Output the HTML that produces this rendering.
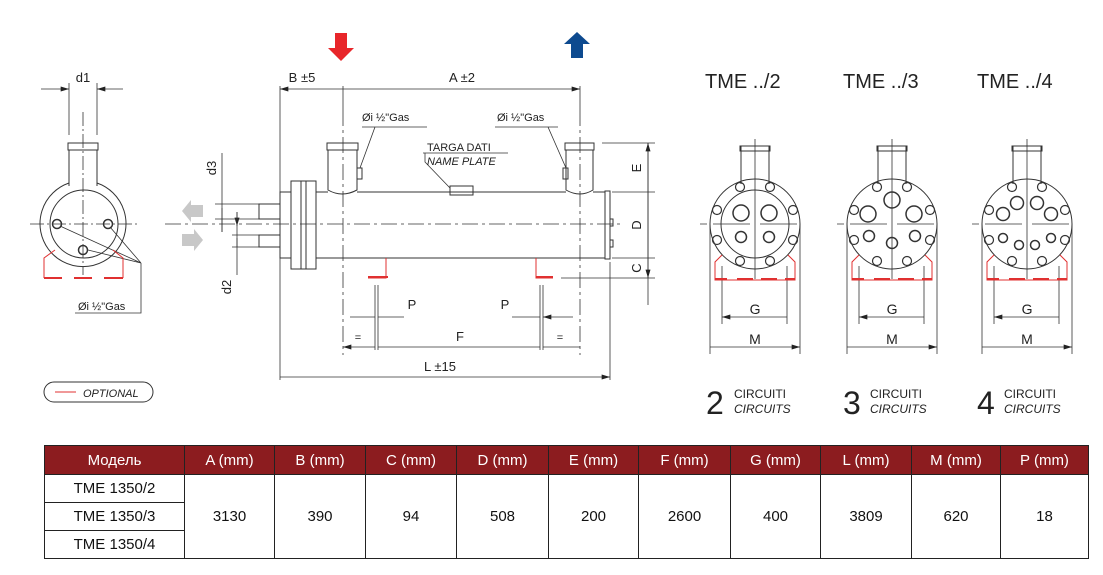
<!DOCTYPE html>
<html><head><meta charset="utf-8"><style>
body{margin:0;background:#fff;width:1103px;height:575px;overflow:hidden;font-family:"Liberation Sans",sans-serif}
svg{position:absolute;left:0;top:0}
table{position:absolute;left:44px;top:445px;border-collapse:collapse;font-family:"Liberation Sans",sans-serif;font-size:15px;color:#111}
td,th{border:1.5px solid #222;text-align:center;padding:0;height:27px}
th{background:#8c1c1f;color:#fff;font-weight:normal;height:28px}
</style></head><body>
<svg width="1103" height="440" viewBox="0 0 1103 440" font-family="Liberation Sans, sans-serif">
<defs>
<marker id="a" viewBox="0 0 10 6" refX="10" refY="3" markerWidth="9" markerHeight="5" orient="auto-start-reverse" markerUnits="userSpaceOnUse"><path d="M0,0L10,3L0,6z" fill="#222"/></marker>
<g id="rv" fill="none" stroke="#333" stroke-width="1">
 <path d="M-14,-40V-78M14,-40V-78M-15,-78h30v5h-30z"/>
 <circle r="45"/>
 <g stroke-width="1.2">
 <circle cx="-15" cy="-37" r="4.5"/><circle cx="15" cy="-37" r="4.5"/><circle cx="-38" cy="-14" r="4.5"/><circle cx="38" cy="-14" r="4.5"/>
 <circle cx="-38" cy="16" r="4.5"/><circle cx="38" cy="16" r="4.5"/><circle cx="-15" cy="37" r="4.5"/><circle cx="15" cy="37" r="4.5"/></g>
 <path d="M0,-85V55M-55,0H-48M-42,0H-5M5,0H42" stroke-width="0.8"/>
 <path d="M-33,42V100M32,42V100M-45,0V130M45,0V130" stroke-width="0.8"/>
 <path d="M-33,93H32M-45,123H45" stroke-width="0.8" marker-start="url(#a)" marker-end="url(#a)"/>
 <path d="M-33,31L-40,38V56H40V38L33,31" stroke="#e03030"/>
 <path d="M-40,55H-28M-18,55H-2M6,55H22M30,55H40" stroke="#e03030" stroke-width="2"/>
 <text x="0" y="90" font-size="14" text-anchor="middle" fill="#222" stroke="none">G</text>
 <text x="0" y="120" font-size="14" text-anchor="middle" fill="#222" stroke="none">M</text>
</g>
</defs>

<!-- side view -->
<g fill="none" stroke="#333" stroke-width="1">
 <path d="M69,186V150M97,186V150M68,143h30v7h-30z"/>
 <path d="M69,183A43,43 0 1,0 97,183"/>
 <circle cx="84" cy="224" r="34"/>
 <circle cx="57" cy="224" r="4.5" stroke-width="1.5"/><circle cx="108" cy="224" r="4.5" stroke-width="1.5"/><circle cx="83" cy="250" r="4.5" stroke-width="1.5"/>
 <path d="M30,224H140M83,112V275" stroke-dasharray="14,3,2,3" stroke-width="0.8"/>
 <path d="M69,83V135M97,83V135" stroke-width="0.8"/>
 <path d="M41,89H69" stroke-width="0.8" marker-end="url(#a)"/>
 <path d="M123,89H97" stroke-width="0.8" marker-end="url(#a)"/>
 <path d="M141,263L60,226M141,263L110,227M141,263L88,250M141,263V313H75" stroke-width="0.8"/>
 <path d="M55,250L44,258V278M113,250L123,258V278" stroke="#e03030"/>
 <path d="M44,278H62M74,278H92M104,278H123" stroke="#e03030" stroke-width="2"/>
 <rect x="44" y="382" width="109" height="20" rx="10"/>
 <path d="M55,392H76" stroke="#e03030"/>
</g>
<text x="83" y="82" font-size="13" text-anchor="middle" fill="#222">d1</text>
<text x="78" y="310" font-size="11" fill="#222">Øi ½"Gas</text>
<text x="83" y="397" font-size="11" font-style="italic" fill="#222">OPTIONAL</text>

<!-- flow arrows -->
<path d="M335,33h12v15h7l-13,13l-13,-13h7z" fill="#e8262a"/>
<path d="M571,58h12v-14h7l-13,-12l-13,12h7z" fill="#0d4a8f"/>
<path d="M203,205v12h-12v5l-9,-11l9,-11v5z" fill="#c8c8c8"/>
<path d="M182,234v12h12v5l9,-11l-9,-11v5z" fill="#c8c8c8"/>

<!-- main view -->
<g fill="none" stroke="#333" stroke-width="1">
 <rect x="280" y="192" width="11" height="66"/>
 <rect x="291" y="181" width="25" height="88"/>
 <path d="M301,181V269M306,181V269"/>
 <path d="M316,192H328M357,192H566M593,192H605M316,258H605"/>
 <rect x="605" y="191" width="5" height="68"/>
 <rect x="610" y="219" width="3" height="7"/><rect x="610" y="240" width="3" height="7"/>
 <path d="M328,150V190Q342,198 357,190V150M327,143h31v7h-31z"/>
 <path d="M566,150V190Q580,198 593,190V150M565,143h29v7h-29z"/>
 <rect x="357" y="168" width="5" height="11"/><rect x="563" y="168" width="5" height="11"/>
 <rect x="450" y="186" width="23" height="9"/>
 <rect x="259" y="204" width="21" height="15"/><rect x="259" y="235" width="21" height="12"/>
 <path d="M165,224H620M343,110V355M580,110V355" stroke-dasharray="16,4,3,4" stroke-width="0.8"/>
 <path d="M280,86V380M343,86V110M580,86V110" stroke-width="0.8"/>
 <path d="M280,89H343M343,89H580" stroke-width="0.8" marker-start="url(#a)" marker-end="url(#a)"/>
 <path d="M362,127H427M375,127L360,168M495,127H558M548,127L566,168M423,153H508M425,153V162L450,188" stroke-width="0.8"/>
 <path d="M222,153V200M222,232V208M237,275V238M237,212V226" stroke-width="0.8" marker-end="url(#a)"/>
 <path d="M215,204H259M215,219H259M232,235H259M232,247H259M222,200V232M237,212V247" stroke-width="0.8"/>
 <path d="M602,143H655M612,192H655M612,258H655M561,278H655M648,143V305" stroke-width="0.8"/>
 <path d="M648,143V192M648,192V258M648,258V278" stroke-width="0.8" marker-start="url(#a)" marker-end="url(#a)"/>
 <path d="M386,258V278H368M536,258V278H553" stroke="#e03030"/>
 <path d="M368,277H388M536,277H553" stroke="#e03030" stroke-width="2"/>
 <path d="M375,285V350M378,285V350M540,285V350M543,285V350M610,262V380" stroke-width="0.8"/>
 <path d="M350,317H375M404,317H378M512,317H540M573,317H543" stroke-width="0.8" marker-end="url(#a)"/>
 <path d="M343,347H375M378,347H540M543,347H580M280,377H610" stroke-width="0.8" marker-start="url(#a)" marker-end="url(#a)"/>
</g>
<g font-size="13" fill="#222">
 <text x="302" y="82" text-anchor="middle">B ±5</text>
 <text x="462" y="82" text-anchor="middle">A ±2</text>
 <text x="362" y="121" font-size="11">Øi ½"Gas</text>
 <text x="497" y="121" font-size="11">Øi ½"Gas</text>
 <text x="427" y="151" font-size="11">TARGA DATI</text>
 <text x="427" y="165" font-size="11" font-style="italic">NAME PLATE</text>
 <text transform="translate(216,168) rotate(-90)" text-anchor="middle">d3</text>
 <text transform="translate(231,287) rotate(-90)" text-anchor="middle">d2</text>
 <text transform="translate(641,168) rotate(-90)" text-anchor="middle">E</text>
 <text transform="translate(641,225) rotate(-90)" text-anchor="middle">D</text>
 <text transform="translate(641,268) rotate(-90)" text-anchor="middle">C</text>
 <text x="412" y="309" text-anchor="middle">P</text>
 <text x="505" y="309" text-anchor="middle">P</text>
 <text x="358" y="341" text-anchor="middle" font-size="11">=</text>
 <text x="560" y="341" text-anchor="middle" font-size="11">=</text>
 <text x="460" y="341" text-anchor="middle">F</text>
 <text x="440" y="371" text-anchor="middle">L ±15</text>
</g>

<!-- right views -->
<use href="#rv" x="755" y="224"/>
<use href="#rv" x="892" y="224"/>
<use href="#rv" x="1027" y="224"/>
<g fill="none" stroke="#333" stroke-width="1.5">
 <circle cx="755" cy="224" r="34" stroke-width="1"/>
 <circle cx="741" cy="213" r="8"/><circle cx="769" cy="213" r="8"/><circle cx="741" cy="237" r="5.5"/><circle cx="769" cy="237" r="5.5"/>
 <circle cx="892" cy="200" r="8"/><circle cx="868" cy="214" r="8"/><circle cx="914" cy="214" r="8"/><circle cx="869" cy="236" r="5.5"/><circle cx="915" cy="236" r="5.5"/><circle cx="892" cy="243" r="5.5"/>
 <circle cx="1017" cy="203" r="6.5"/><circle cx="1037" cy="203" r="6.5"/><circle cx="1003" cy="214" r="6.5"/><circle cx="1051" cy="214" r="6.5"/><circle cx="1003" cy="238" r="4.5"/><circle cx="1051" cy="238" r="4.5"/><circle cx="1019" cy="245" r="4.5"/><circle cx="1035" cy="245" r="4.5"/>
</g>
<g fill="#222">
 <text x="705" y="88" font-size="20">TME ../2</text>
 <text x="843" y="88" font-size="20">TME ../3</text>
 <text x="977" y="88" font-size="20">TME ../4</text>
 <text x="706" y="414" font-size="32">2</text><text x="734" y="398" font-size="12">CIRCUITI</text><text x="734" y="413" font-size="12" font-style="italic">CIRCUITS</text>
 <text x="843" y="414" font-size="32">3</text><text x="870" y="398" font-size="12">CIRCUITI</text><text x="870" y="413" font-size="12" font-style="italic">CIRCUITS</text>
 <text x="977" y="414" font-size="32">4</text><text x="1004" y="398" font-size="12">CIRCUITI</text><text x="1004" y="413" font-size="12" font-style="italic">CIRCUITS</text>
</g>
</svg>

<table>
<tr><th style="width:139px">Модель</th><th style="width:89px">A (mm)</th><th style="width:90px">B (mm)</th><th style="width:90px">C (mm)</th><th style="width:91px">D (mm)</th><th style="width:89px">E (mm)</th><th style="width:91px">F (mm)</th><th style="width:89px">G (mm)</th><th style="width:90px">L (mm)</th><th style="width:88px">M (mm)</th><th style="width:87px">P (mm)</th></tr>
<tr><td>TME 1350/2</td><td rowspan="3">3130</td><td rowspan="3">390</td><td rowspan="3">94</td><td rowspan="3">508</td><td rowspan="3">200</td><td rowspan="3">2600</td><td rowspan="3">400</td><td rowspan="3">3809</td><td rowspan="3">620</td><td rowspan="3">18</td></tr>
<tr><td>TME 1350/3</td></tr>
<tr><td>TME 1350/4</td></tr>
</table>
</body></html>
